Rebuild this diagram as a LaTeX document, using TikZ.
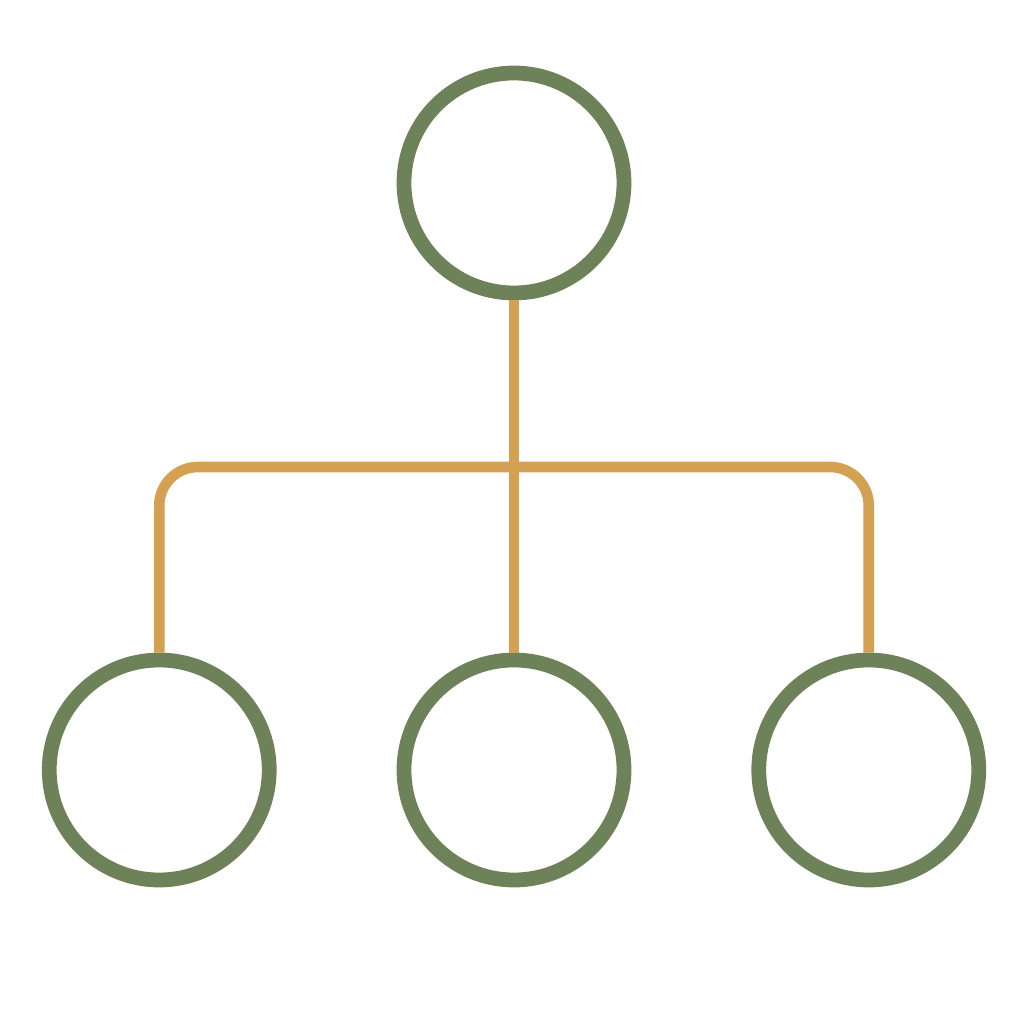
\documentclass[tikz,border=0pt]{standalone}
\usetikzlibrary{positioning}
\definecolor{leafgreen}{HTML}{6E8259}
\definecolor{linkgold}{HTML}{D4A052}
\tikzset{member node/.style={circle,draw=leafgreen,line width=4.2pt,minimum size=2.2cm,inner sep=0pt},
  link/.style={draw=linkgold,line width=3pt,rounded corners=11pt}}

\begin{document}
\begin{tikzpicture}
            \useasboundingbox (0,0) rectangle (10.24,10.24);
            \node[member node] (top) at (5.14,8.41) {};
            \node[member node] (mid) at (5.14,2.54) {};
            \node[member node] (left) [left = 1.2cm of mid] {};
            \node[member node] (right) [right = 1.2cm of mid] {};
            \coordinate (hub) at (5.14,5.57);

            \path[link] (top.south) -- (hub) -- (mid.north);
            \path[link] (left.north) |- (hub) -| (right.north);
        \end{tikzpicture}
\end{document}
